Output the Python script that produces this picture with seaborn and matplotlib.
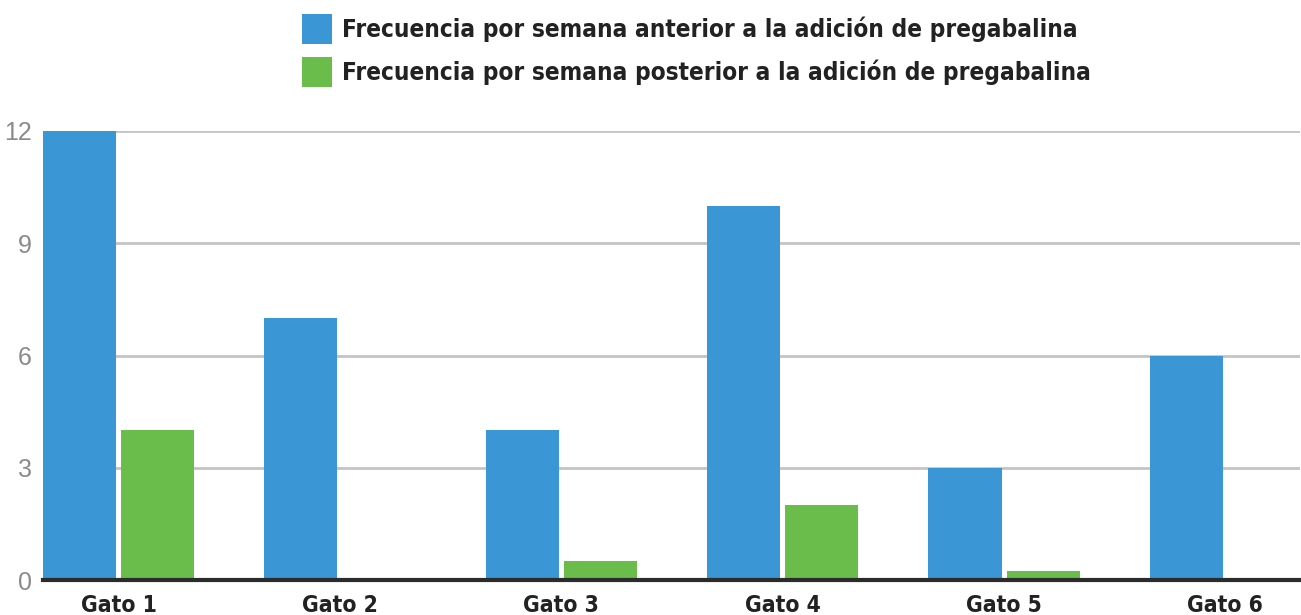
import matplotlib
matplotlib.use('Agg')
import matplotlib.pyplot as plt
from matplotlib import font_manager
import seaborn as sb
import pandas as pd
from matplotlib.patches import Patch

gatos = ["Gato 1", "Gato 2", "Gato 3", "Gato 4", "Gato 5", "Gato 6"]
antes = [12, 7, 4, 10, 3, 6]
despues = [4, 0, 0.5, 2, 0.25, 0]
series = ["Frecuencia por semana anterior a la adición de pregabalina",
          "Frecuencia por semana posterior a la adición de pregabalina"]
colores = ["#3a96d4", "#6abd4b"]
yticks = [0, 3, 6, 9, 12]

sb.set_style("white")
plt.rcParams['font.family'] = ['Liberation Sans', 'DejaVu Sans']

# look for a narrow / condensed bold face, like the original's condensed labels
narrow = None
for f in font_manager.fontManager.ttflist:
    n = (f.name + " " + f.fname).lower()
    if ("narrow" in n or "condensed" in n) and f.weight in ("bold", 700):
        narrow = f.fname
        break
if narrow:
    bold_font = dict(fname=narrow)
else:
    bold_font = dict(family="Liberation Sans", weight="bold")

df = pd.DataFrame({
    "gato": gatos * 2,
    "valor": antes + despues,
    "serie": [series[0]] * len(gatos) + [series[1]] * len(gatos),
})

fig = plt.figure(figsize=(13.01, 6.15), dpi=100)
r = fig.canvas.get_renderer()
px = 100 / 72  # pixels per point


def fit_size(text, width_px):
    """ Font size (pt) that makes text about width_px wide in the bold face.
    """
    t = fig.text(0, 0, text, fontproperties=font_manager.FontProperties(size=20, **bold_font))
    w = t.get_window_extent(r).width
    t.remove()
    return 20 * width_px / w


ax = fig.add_axes([43 / 1301, 35 / 615, 1257 / 1301, 449 / 615])

sb.barplot(data=df, x="gato", y="valor", hue="serie", palette=colores,
           width=0.705, gap=0.064, saturation=1, legend=False, linewidth=0, ax=ax)

ax.set_xlim(-0.341, 5.337)
ax.set_ylim(0, 12)
ax.set_yticks(yticks)
ax.yaxis.grid(True, color="#c4c4c4", lw=2)
ax.set_axisbelow(True)
for s in ["top", "right", "left"]:
    ax.spines[s].set_visible(False)
ax.spines["bottom"].set_color("#2b2b2b")
ax.spines["bottom"].set_linewidth(3)
ax.spines["bottom"].set_zorder(5)
ax.set_xlabel("")
ax.set_ylabel("")
ax.tick_params(axis="y", length=0, pad=8, labelsize=18, labelcolor="#8a8a8a")
ax.tick_params(axis="x", length=0, pad=10, labelcolor="#222222")

xfp = font_manager.FontProperties(size=fit_size("Gato 1", 76), **bold_font)
for t in ax.get_xticklabels():
    t.set_fontproperties(xfp)

ls = fit_size(series[0], 736)
fs_px = ls * px
hh = (30 / fs_px - 0.245) / 0.65  # legend handle box height so the square is ~30 px
lfp = font_manager.FontProperties(size=ls, **bold_font)
handles = [Patch(facecolor=c, edgecolor="none") for c in colores]
leg = fig.legend(handles, series, loc="upper left", bbox_to_anchor=(302 / 1301, 1 - 14 / 615),
                 frameon=False, borderpad=0, borderaxespad=0,
                 handlelength=30 / fs_px, handleheight=hh, handletextpad=10 / fs_px,
                 labelspacing=(50 - hh * fs_px) / fs_px, prop=lfp)
for t in leg.get_texts():
    t.set_color("#222222")

plt.savefig("out.png", dpi=100)
plt.close()
